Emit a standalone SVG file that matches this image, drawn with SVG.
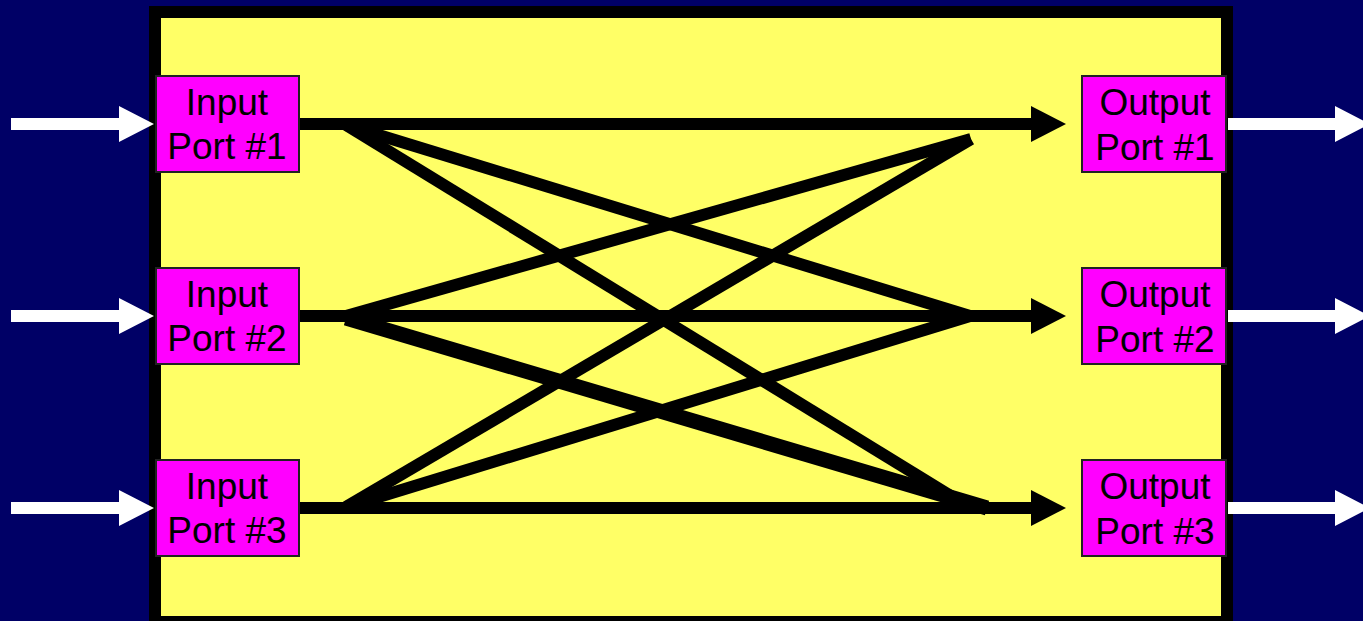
<svg xmlns="http://www.w3.org/2000/svg" width="1363" height="621" viewBox="0 0 1363 621">
  <style>
    .port { fill: #FF00FF; stroke: #222222; stroke-width: 2; }
    .lbl { font-family: "Liberation Sans", Arial, sans-serif; font-size: 37px; fill: #000000; text-anchor: middle; }
    .wire { stroke: #000000; stroke-width: 12; stroke-linecap: butt; fill: none; }
    .thick { stroke-width: 15; }
    .head { fill: #000000; }
    .wshaft { fill: #FFFFFF; }
  </style>
  <rect x="0" y="0" width="1363" height="621" fill="#000066"/>
  <g id="switch-fabric">
    <rect x="155" y="12" width="1072" height="610" fill="#FFFF66" stroke="#000000" stroke-width="12"/>
  </g>
  <g id="external-arrows">
    <polygon class="wshaft" points="11,118 119,118 119,106 154,124 119,142 119,130 11,130"/>
    <polygon class="wshaft" points="11,310 119,310 119,298 154,316 119,334 119,322 11,322"/>
    <polygon class="wshaft" points="11,502 119,502 119,490 154,508 119,526 119,514 11,514"/>
    <polygon class="wshaft" points="1228,118 1335,118 1335,106 1370,124 1335,142 1335,130 1228,130"/>
    <polygon class="wshaft" points="1228,310 1335,310 1335,298 1370,316 1335,334 1335,322 1228,322"/>
    <polygon class="wshaft" points="1228,502 1335,502 1335,490 1370,508 1335,526 1335,514 1228,514"/>
  </g>
  <g id="connectors">
    <line class="wire" x1="299" y1="124" x2="1033" y2="124"/>
    <line class="wire" x1="299" y1="316" x2="1033" y2="316"/>
    <line class="wire" x1="299" y1="508" x2="1033" y2="508"/>
    <polygon class="head" points="1031,106 1066,124 1031,142"/>
    <polygon class="head" points="1031,298 1066,316 1031,334"/>
    <polygon class="head" points="1031,490 1066,508 1031,526"/>
    <line class="wire" x1="346" y1="125" x2="970" y2="316"/>
    <line class="wire" x1="346" y1="125" x2="964" y2="504"/>
    <line class="wire" x1="346" y1="316" x2="971" y2="139"/>
    <line class="wire thick" x1="346" y1="318" x2="987" y2="508"/>
    <line class="wire" x1="346" y1="507" x2="971" y2="139"/>
    <line class="wire" x1="346" y1="507" x2="970" y2="316"/>
  </g>
  <g id="input-port-1">
    <rect class="port" x="156" y="76" width="143" height="96"/>
    <text class="lbl" x="227" y="115">Input</text>
    <text class="lbl" x="227" y="159">Port #1</text>
  </g>
  <g id="input-port-2">
    <rect class="port" x="156" y="268" width="143" height="96"/>
    <text class="lbl" x="227" y="307">Input</text>
    <text class="lbl" x="227" y="351">Port #2</text>
  </g>
  <g id="input-port-3">
    <rect class="port" x="156" y="460" width="143" height="96"/>
    <text class="lbl" x="227" y="499">Input</text>
    <text class="lbl" x="227" y="543">Port #3</text>
  </g>
  <g id="output-port-1">
    <rect class="port" x="1082" y="76" width="144" height="96"/>
    <text class="lbl" x="1155" y="115">Output</text>
    <text class="lbl" x="1155" y="160">Port #1</text>
  </g>
  <g id="output-port-2">
    <rect class="port" x="1082" y="268" width="144" height="96"/>
    <text class="lbl" x="1155" y="307">Output</text>
    <text class="lbl" x="1155" y="352">Port #2</text>
  </g>
  <g id="output-port-3">
    <rect class="port" x="1082" y="460" width="144" height="96"/>
    <text class="lbl" x="1155" y="499">Output</text>
    <text class="lbl" x="1155" y="544">Port #3</text>
  </g>
</svg>
